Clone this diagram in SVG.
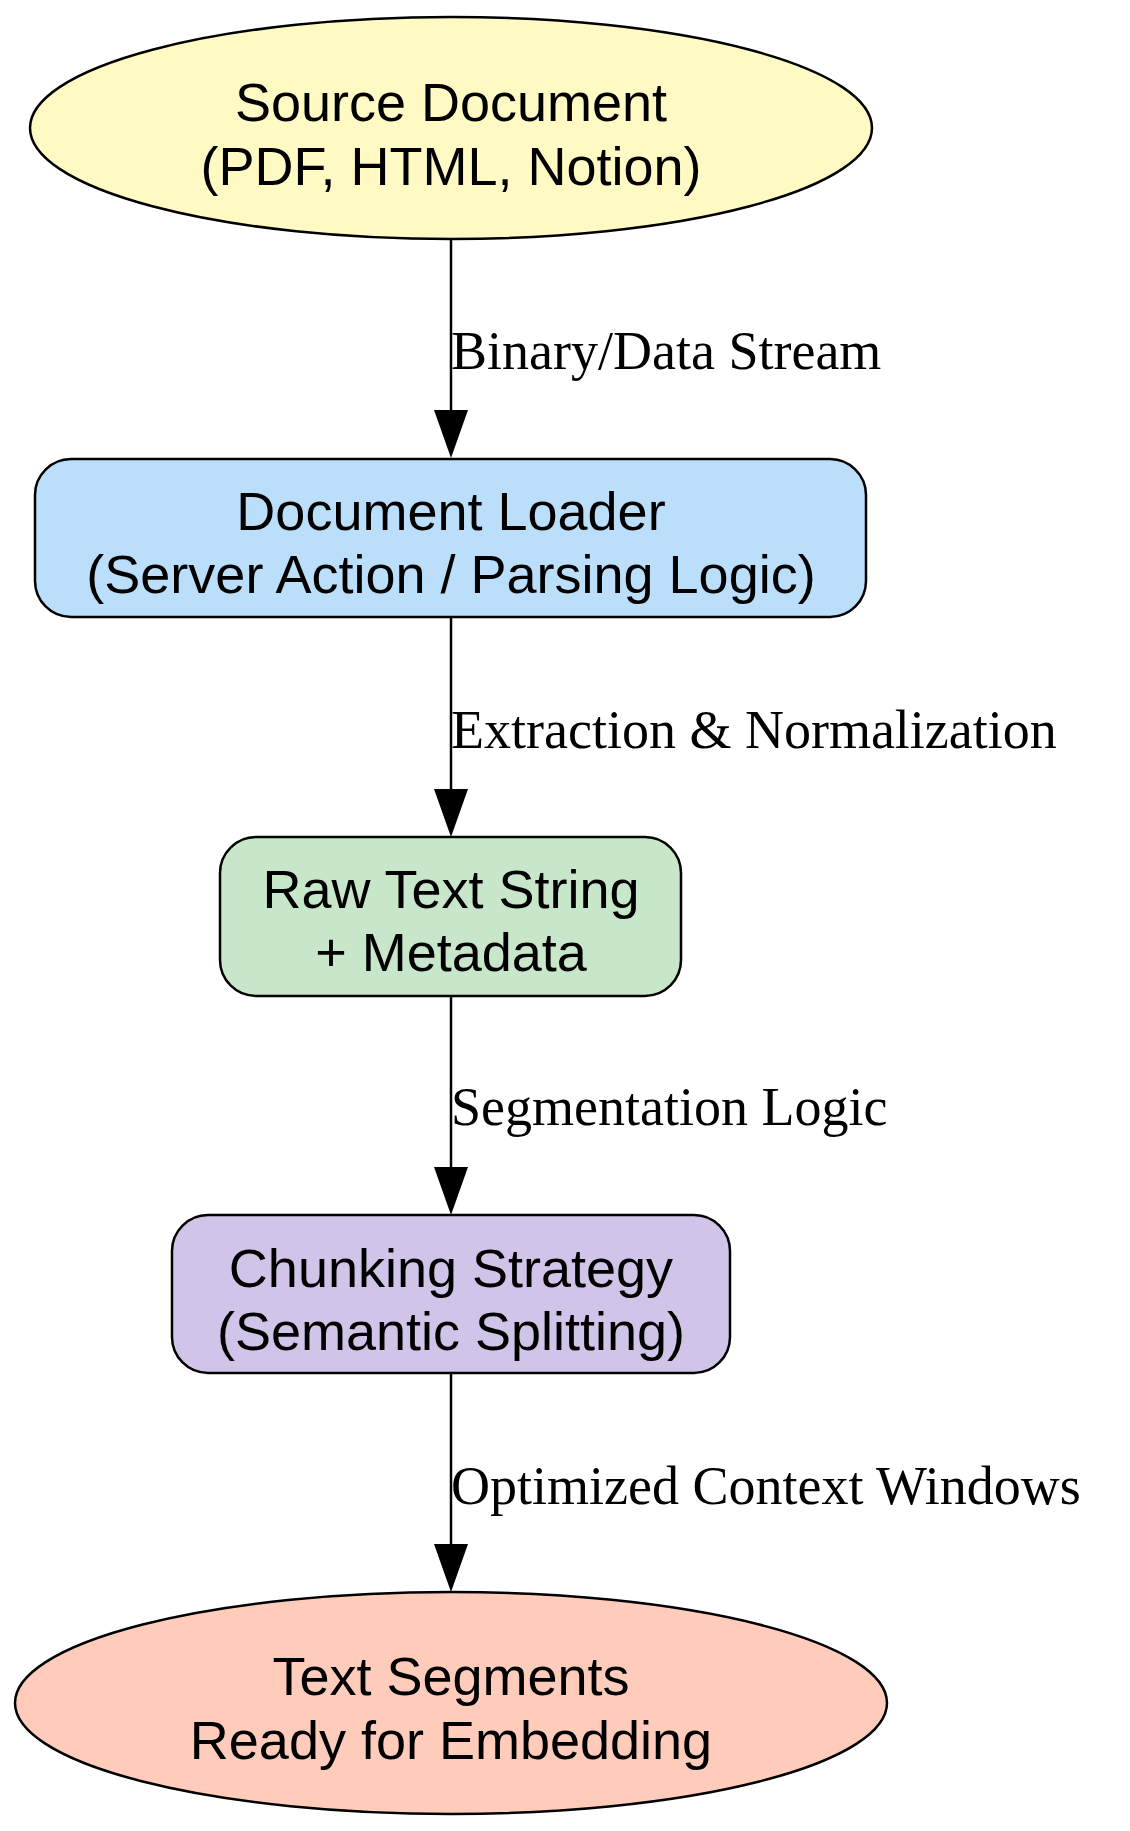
<svg xmlns="http://www.w3.org/2000/svg" width="1130" height="1831" viewBox="0 0 1130 1831">
<style>
.n{stroke:#000;stroke-width:2.5}
.t{font-family:"Liberation Sans",Arial,sans-serif;font-size:54px;text-anchor:middle;fill:#000}
.l{font-family:"Liberation Serif","Times New Roman",serif;font-size:54px;fill:#000}
.e{stroke:#000;stroke-width:2.5;fill:none}
</style>
<rect width="1130" height="1831" fill="#fff"/>
<g id="connectors">
<path class="e" d="M451 240V410"/><polygon points="434,410 468,410 451,458"/>
<text class="l" x="451" y="369">Binary/Data Stream</text>
<path class="e" d="M451 617V789"/><polygon points="434,789 468,789 451,837"/>
<text class="l" x="451" y="748">Extraction &amp; Normalization</text>
<path class="e" d="M451 996V1167"/><polygon points="434,1167 468,1167 451,1215"/>
<text class="l" x="451" y="1125">Segmentation Logic</text>
<path class="e" d="M451 1373V1544"/><polygon points="434,1544 468,1544 451,1592"/>
<text class="l" x="451" y="1504">Optimized Context Windows</text>
</g>
<g id="source"><ellipse class="n" cx="451" cy="128" rx="421" ry="111" fill="#FFF9C4"/>
<text class="t" x="451" y="121">Source Document</text><text class="t" x="451" y="185">(PDF, HTML, Notion)</text></g>
<g id="loader"><rect class="n" x="35" y="459" width="831" height="158" rx="36" fill="#BBDEFB"/>
<text class="t" x="451" y="530">Document Loader</text><text class="t" x="451" y="593">(Server Action / Parsing Logic)</text></g>
<g id="raw"><rect class="n" x="220" y="837" width="461" height="159" rx="36" fill="#C8E6C9"/>
<text class="t" x="451" y="908">Raw Text String</text><text class="t" x="451" y="971">+ Metadata</text></g>
<g id="chunk"><rect class="n" x="172" y="1215" width="558" height="158" rx="36" fill="#D1C4E9"/>
<text class="t" x="451" y="1287">Chunking Strategy</text><text class="t" x="451" y="1350">(Semantic Splitting)</text></g>
<g id="segments"><ellipse class="n" cx="451" cy="1703" rx="436" ry="111" fill="#FFCCBC"/>
<text class="t" x="451" y="1695">Text Segments</text><text class="t" x="451" y="1759">Ready for Embedding</text></g>
</svg>
